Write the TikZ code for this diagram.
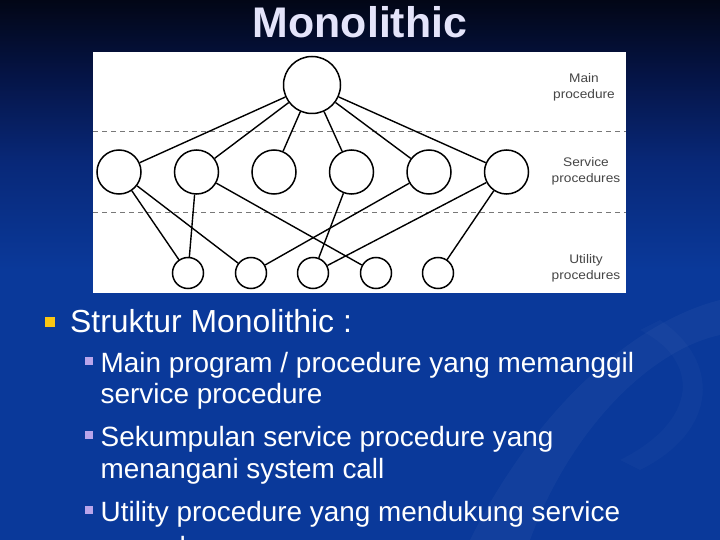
\documentclass[tikz,border=0pt]{standalone}
\usepackage{fontspec}
\setmainfont{Liberation Sans}
\newfontfamily\labelfont[FakeStretch=1.1]{Liberation Sans}

\definecolor{bgtop}{RGB}{2,6,22}
\definecolor{bgdark}{RGB}{5,20,70}
\definecolor{bgmid}{RGB}{8,40,120}
\definecolor{bgblue}{RGB}{10,57,154}
\definecolor{titlecol}{RGB}{228,228,250}
\definecolor{bulletgold}{RGB}{250,198,20}
\definecolor{bulletlav}{RGB}{185,165,235}
\definecolor{labelgray}{RGB}{70,70,70}
\definecolor{sepgray}{RGB}{120,120,120}

\pgfdeclareverticalshading{slidebg}{100bp}{color(0bp)=(bgblue); color(50bp)=(bgblue); color(60bp)=(bgmid); color(68bp)=(bgdark); color(75bp)=(bgtop); color(100bp)=(bgtop)}

\tikzset{
  mainproc/.style={circle, draw, line width=1.5bp, fill=white, minimum size=57bp, inner sep=0pt},
  svcproc/.style={circle, draw, line width=1.5bp, fill=white, minimum size=44bp, inner sep=0pt},
  utilproc/.style={circle, draw, line width=1.5bp, fill=white, minimum size=31bp, inner sep=0pt},
  call/.style={line width=1.4bp},
  sepline/.style={sepgray, line width=1bp, dash pattern=on 5bp off 4bp},
  layerlabel/.style={labelgray, align=center, font=\labelfont\fontsize{12.5}{16}\selectfont},
  goldbullet/.style={fill=bulletgold, minimum size=10bp, inner sep=0pt},
  lavbullet/.style={fill=bulletlav, minimum size=8bp, inner sep=0pt},
  lvlone/.style={white, anchor=base west, inner sep=0pt, font=\fontsize{32}{38}\selectfont},
  lvltwo/.style={white, anchor=base west, inner sep=0pt, font=\fontsize{28}{33}\selectfont}
}

\begin{document}
\begin{tikzpicture}[x=1bp, y=-1bp]
    \useasboundingbox (0,0) rectangle (720,540);
    \shade[shading=slidebg] (0,0) rectangle (720,540);

    % faint swoosh in the background
    \fill[white, opacity=0.035] (470,540) .. controls (540,400) and (640,320) .. (720,300)
        -- (720,335) .. controls (650,350) and (570,430) .. (530,540) -- cycle;
    \fill[white, opacity=0.025] (640,330) .. controls (700,360) and (700,420) .. (620,460)
        -- (640,470) .. controls (720,430) and (720,360) .. (660,320) -- cycle;

    \node[white, font=\bfseries\fontsize{43}{48}\selectfont, text=titlecol, anchor=base] (title) at (360,38) {Monolithic};

    % the picture of the layers
    \fill[white] (93,52) rectangle (626,293);
    \draw[sepline] (93,131.7) -- (626,131.7);
    \draw[sepline] (93,212.7) -- (626,212.7);

    \node[mainproc] (main) at (312,85) {};

    \node[svcproc] (s1) at (119,172) {};
    \node[svcproc] (s2) at (196.5,172) {};
    \node[svcproc] (s3) at (274,172) {};
    \node[svcproc] (s4) at (351.5,172) {};
    \node[svcproc] (s5) at (429,172) {};
    \node[svcproc] (s6) at (506.5,172) {};

    \node[utilproc] (u1) at (188,273) {};
    \node[utilproc] (u2) at (251,273) {};
    \node[utilproc] (u3) at (313,273) {};
    \node[utilproc] (u4) at (376,273) {};
    \node[utilproc] (u5) at (438,273) {};

    \draw[call] (main) -- (s1);
    \draw[call] (main) -- (s2);
    \draw[call] (main) -- (s3);
    \draw[call] (main) -- (s4);
    \draw[call] (main) -- (s5);
    \draw[call] (main) -- (s6);

    \draw[call] (s1) -- (u1);
    \draw[call] (s1) -- (u2);
    \draw[call] (s2) -- (u1);
    \draw[call] (s2) -- (u4);
    \draw[call] (s4) -- (u3);
    \draw[call] (s5) -- (u2);
    \draw[call] (s6) -- (u3);
    \draw[call] (s6) -- (u5);

    \node[layerlabel] (lblmain) at (584,87) {Main\\procedure};
    \node[layerlabel] (lblsvc) at (586,171) {Service\\procedures};
    \node[layerlabel] (lblutil) at (586,268) {Utility\\procedures};

    % bullet text
    \node[goldbullet] (b0) at (50,322) {};
    \node[lvlone] (struktur) at (70,332) {Struktur Monolithic :};

    \node[lavbullet] (b1) at (89,361) {};
    \node[lvltwo] (item1a) at (100.5,372) {Main program / procedure yang memanggil};
    \node[lvltwo] (item1b) at (100.5,403) {service procedure};

    \node[lavbullet] (b2) at (89,435) {};
    \node[lvltwo] (item2a) at (100.5,446) {Sekumpulan service procedure yang};
    \node[lvltwo] (item2b) at (100.5,478) {menangani system call};

    \node[lavbullet] (b3) at (89,510) {};
    \node[lvltwo] (item3a) at (100.5,521) {Utility procedure yang mendukung service};
    \node[lvltwo] (item3b) at (100.5,556) {procedure};
\end{tikzpicture}
\end{document}
